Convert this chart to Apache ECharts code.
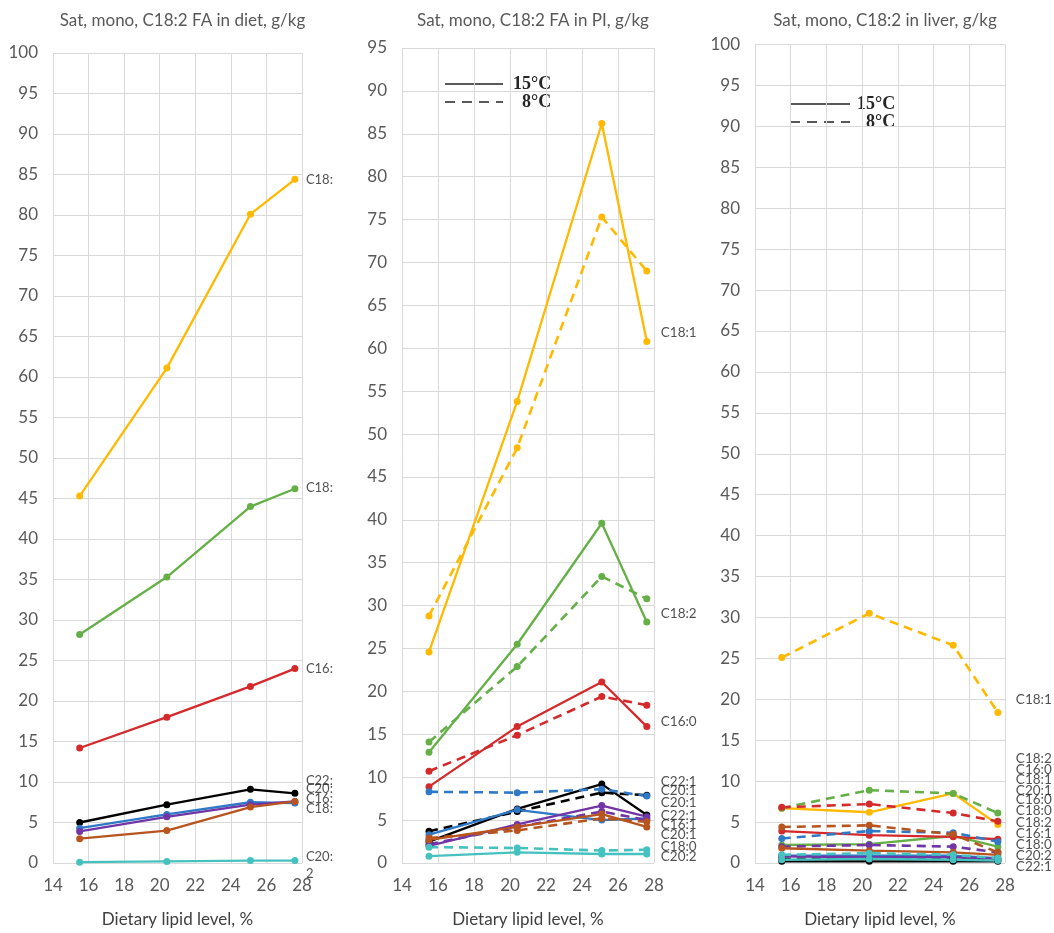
<!DOCTYPE html>
<html>
<head>
<meta charset="utf-8">
<script src="https://cdn.jsdelivr.net/npm/echarts@6/dist/echarts.min.js"></script>
<style>html,body{margin:0;padding:0;background:#fff}#c{width:1054px;height:933px}</style>
</head>
<body>
<div id="c"></div>
<script>
// ---------- data ----------
const xLevels = [15.5, 20.4, 25.1, 27.6];
const xTicks = [14, 16, 18, 20, 22, 24, 26, 28];
const fattyAcids = ['C18:1', 'C18:2', 'C16:0', 'C22:1', 'C20:1', 'C16:1', 'C18:0', 'C20:2'];

// Diet
const diet_C18_1 = [45.3, 61.1, 80.1, 84.4];
const diet_C18_2 = [28.2, 35.3, 44.0, 46.2];
const diet_C16_0 = [14.2, 18.0, 21.8, 24.0];
const diet_C22_1 = [5.0, 7.2, 9.1, 8.6];
const diet_C20_1 = [4.3, 6.0, 7.5, 7.4];
const diet_C16_1 = [3.9, 5.7, 7.2, 7.6];
const diet_C18_0 = [3.0, 4.0, 6.9, 7.6];
const diet_C20_2 = [0.1, 0.2, 0.3, 0.3];

// PI, 15 °C (solid) and 8 °C (dashed)
const pi15_C18_1 = [24.6, 53.8, 86.2, 60.8];
const pi8_C18_1  = [28.8, 48.4, 75.3, 69.0];
const pi15_C18_2 = [12.9, 25.5, 39.6, 28.1];
const pi8_C18_2  = [14.1, 22.9, 33.4, 30.8];
const pi15_C16_0 = [8.9, 15.9, 21.1, 15.9];
const pi8_C16_0  = [10.7, 14.9, 19.4, 18.4];
const pi15_C22_1 = [2.5, 6.3, 9.2, 5.6];
const pi8_C22_1  = [3.7, 6.0, 8.2, 7.9];
const pi15_C20_1 = [3.3, 6.2, 5.0, 5.2];
const pi8_C20_1  = [8.3, 8.2, 8.6, 7.8];
const pi15_C16_1 = [2.0, 4.5, 6.7, 5.4];
const pi8_C16_1  = [2.2, 4.2, 6.0, 5.0];
const pi15_C18_0 = [2.7, 4.2, 5.7, 4.2];
const pi8_C18_0  = [2.9, 3.8, 5.2, 4.8];
const pi15_C20_2 = [0.8, 1.25, 1.05, 1.05];
const pi8_C20_2  = [1.85, 1.75, 1.45, 1.55];

// Liver, 15 °C (solid) and 8 °C (dashed)
const liver15_C18_1 = [6.7, 6.2, 8.5, 4.7];
const liver8_C18_1  = [25.1, 30.5, 26.6, 18.4];
const liver15_C18_2 = [2.2, 2.3, 3.3, 2.0];
const liver8_C18_2  = [6.7, 8.9, 8.5, 6.1];
const liver15_C16_0 = [3.9, 3.4, 3.2, 2.9];
const liver8_C16_0  = [6.8, 7.2, 6.1, 5.1];
const liver15_C22_1 = [0.2, 0.2, 0.2, 0.2];
const liver8_C22_1  = [0.5, 0.6, 0.5, 0.4];
const liver15_C20_1 = [0.9, 0.9, 0.9, 0.6];
const liver8_C20_1  = [3.0, 3.9, 3.7, 2.6];
const liver15_C16_1 = [0.8, 0.7, 0.7, 0.5];
const liver8_C16_1  = [2.0, 2.2, 2.0, 1.3];
const liver15_C18_0 = [1.8, 1.5, 1.3, 1.0];
const liver8_C18_0  = [4.4, 4.6, 3.5, 1.3];
const liver15_C20_2 = [0.4, 0.5, 0.4, 0.3];
const liver8_C20_2  = [1.0, 1.2, 1.0, 0.6];

// end-of-line label texts and the value level at which each sits
const dietLabels  = ['C18:1', 'C18:2', 'C16:0', 'C22:1', 'C20:1', 'C16:1', 'C18:0', 'C20:2'];
const dietLabelY  = [84.4, 46.3, 24.0, 10.2, 9.1, 7.9, 6.75, -0.3];
const piLabels    = ['C18:1', 'C18:2', 'C16:0', 'C22:1', 'C20:1', 'C20:1', 'C22:1', 'C16:1', 'C20:1', 'C18:0', 'C20:2'];
const piLabelY    = [61.8, 29.1, 16.5, 9.5, 8.4, 7.0, 5.5, 4.5, 3.3, 1.9, 0.7];
const liverLabels = ['C18:1', 'C18:2', 'C16:0', 'C18:1', 'C20:1', 'C16:0', 'C18:0', 'C18:2', 'C16:1', 'C18:0', 'C20:2', 'C22:1'];
const liverLabelY = [20.0, 12.7, 11.4, 10.2, 8.9, 7.7, 6.4, 4.9, 3.6, 2.2, 0.9, -0.4];

const titles = ['Sat, mono, C18:2 FA in diet, g/kg', 'Sat, mono, C18:2 FA in PI, g/kg', 'Sat, mono, C18:2 in liver, g/kg'];
const xName = 'Dietary lipid level, %';
const legendNames = ['15°C', '8°C'];

// ---------- styles ----------
const faColors = {
  'C18:1': '#FFB900', 'C18:2': '#64B046', 'C16:0': '#D42A2C', 'C22:1': '#000000',
  'C20:1': '#2F79C6', 'C16:1': '#7135A6', 'C18:0': '#B8541E', 'C20:2': '#45C2C0'
};
const FONT = 'Lato, "Noto Sans", sans-serif';
const grids = [
  { left: 53, top: 53, width: 249, height: 810 },
  { left: 402, top: 48, width: 252, height: 819 },
  { left: 755, top: 44.5, width: 250, height: 822 }
];
const yMax = [100, 95, 100];

const dietSets = [diet_C18_1, diet_C18_2, diet_C16_0, diet_C22_1, diet_C20_1, diet_C16_1, diet_C18_0, diet_C20_2];
const pi15Sets = [pi15_C18_1, pi15_C18_2, pi15_C16_0, pi15_C22_1, pi15_C20_1, pi15_C16_1, pi15_C18_0, pi15_C20_2];
const pi8Sets  = [pi8_C18_1, pi8_C18_2, pi8_C16_0, pi8_C22_1, pi8_C20_1, pi8_C16_1, pi8_C18_0, pi8_C20_2];
const liver15Sets = [liver15_C18_1, liver15_C18_2, liver15_C16_0, liver15_C22_1, liver15_C20_1, liver15_C16_1, liver15_C18_0, liver15_C20_2];
const liver8Sets  = [liver8_C18_1, liver8_C18_2, liver8_C16_0, liver8_C22_1, liver8_C20_1, liver8_C16_1, liver8_C18_0, liver8_C20_2];

function lineSeries(name, vals, gi, dashed) {
  const c = faColors[name];
  return {
    type: 'line', name: name, xAxisIndex: gi, yAxisIndex: gi,
    data: xLevels.map((x, i) => [x, vals[i]]),
    symbol: 'circle', symbolSize: 7, showAllSymbol: true,
    lineStyle: { color: c, width: dashed ? 2.6 : 2.3, type: dashed ? [9, 6] : 'solid' },
    itemStyle: { color: c },
    z: 3, silent: true, animation: false
  };
}

function labelSeries(names, ys, gi, dx, fontSize, truncateW) {
  const lastX = xLevels[xLevels.length - 1];
  return {
    type: 'scatter', xAxisIndex: gi, yAxisIndex: gi, symbolSize: 0, clip: false, silent: true,
    animation: false,
    data: names.map((n, i) => {
      const item = { value: [lastX, ys[i]], name: n };
      if (truncateW && n === 'C20:2') {
        item.label = { overflow: 'break', width: truncateW - 2, lineHeight: 17 };
      }
      return item;
    }),
    label: Object.assign({
      show: true, position: 'right', offset: [dx, 0], distance: 0,
      formatter: p => p.name, color: '#262626', fontFamily: FONT, fontSize: fontSize
    }, truncateW ? { width: truncateW, overflow: 'truncate', ellipsis: '' } : {}),
    z: 5
  };
}

const series = [];
fattyAcids.forEach((fa, i) => series.push(lineSeries(fa, dietSets[i], 0, false)));
fattyAcids.forEach((fa, i) => {
  series.push(lineSeries(fa, pi8Sets[i], 1, true));
  series.push(lineSeries(fa, pi15Sets[i], 1, false));
});
fattyAcids.forEach((fa, i) => {
  series.push(lineSeries(fa, liver8Sets[i], 2, true));
  series.push(lineSeries(fa, liver15Sets[i], 2, false));
});
series.push(labelSeries(dietLabels, dietLabelY, 0, 11, 13, 30));
series.push(labelSeries(piLabels, piLabelY, 1, 14, 13.5));
series.push(labelSeries(liverLabels, liverLabelY, 2, 18, 13.5));

const gridLine = { show: true, lineStyle: { color: '#D9D9D9', width: 1 } };
const option = {
  backgroundColor: '#ffffff',
  animation: false,
  title: titles.map((t, i) => ({
    text: t, left: grids[i].left + grids[i].width / 2, top: 7, textAlign: 'center',
    textStyle: { fontFamily: FONT, fontSize: 17, fontWeight: 'normal', color: '#595959' }
  })),
  grid: grids,
  xAxis: grids.map((g, i) => ({
    type: 'value', gridIndex: i, min: xTicks[0], max: xTicks[xTicks.length - 1], interval: 2,
    name: xName, nameLocation: 'middle', nameGap: 48,
    nameTextStyle: { fontFamily: FONT, fontSize: 17, color: '#404040' },
    axisLine: { show: false }, axisTick: { show: false },
    axisLabel: { fontFamily: FONT, fontSize: 17, color: '#595959', margin: 14 },
    splitLine: gridLine
  })),
  yAxis: grids.map((g, i) => ({
    type: 'value', gridIndex: i, min: 0, max: yMax[i], interval: 5,
    axisLine: { show: false }, axisTick: { show: false },
    axisLabel: { fontFamily: FONT, fontSize: 17, color: '#595959', margin: 15 },
    splitLine: gridLine
  })),
  graphic: [
    { type: 'line', shape: { x1: 445, y1: 84, x2: 503, y2: 84 }, style: { stroke: '#595959', lineWidth: 2 } },
    { type: 'line', shape: { x1: 445, y1: 102, x2: 503, y2: 102 }, style: { stroke: '#595959', lineWidth: 2, lineDash: [10, 7] } },
    { type: 'text', x: 513, y: 84, style: { text: legendNames[0], font: 'bold 18px "Liberation Serif", serif', fill: '#262626', textVerticalAlign: 'middle' } },
    { type: 'text', x: 522, y: 102, style: { text: legendNames[1], font: 'bold 18px "Liberation Serif", serif', fill: '#262626', textVerticalAlign: 'middle' } },
    { type: 'line', shape: { x1: 790, y1: 104, x2: 850, y2: 104 }, style: { stroke: '#595959', lineWidth: 2 } },
    { type: 'line', shape: { x1: 790, y1: 122, x2: 850, y2: 122 }, style: { stroke: '#595959', lineWidth: 2, lineDash: [10, 7] } },
    { type: 'text', x: 857, y: 104, style: { text: legendNames[0], font: 'bold 18px "Liberation Serif", serif', fill: '#262626', textVerticalAlign: 'middle' } },
    { type: 'text', x: 866, y: 122, style: { text: legendNames[1], font: 'bold 18px "Liberation Serif", serif', fill: '#262626', textVerticalAlign: 'middle' } }
  ],
  series: series
};
const chart = echarts.init(document.getElementById('c'), null, { renderer: 'canvas' });
chart.setOption(option);
</script>
</body>
</html>
